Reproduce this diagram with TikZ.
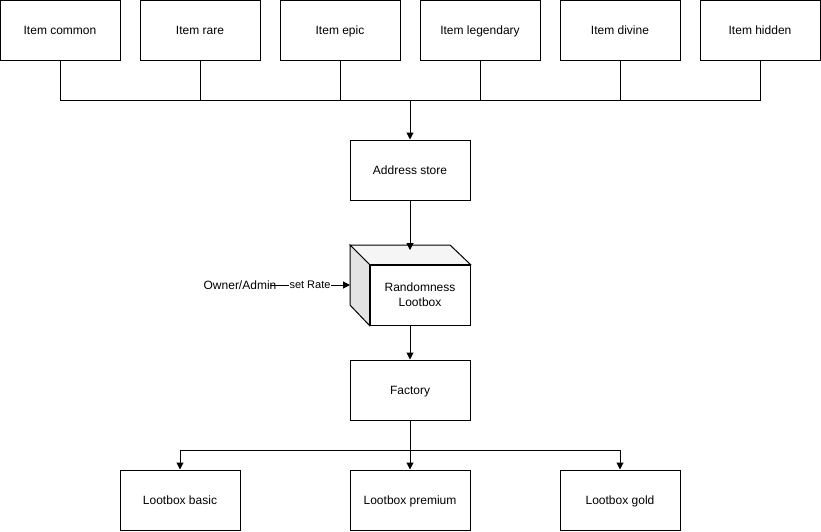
\documentclass[tikz,border=0pt]{standalone}
\usepackage{fontspec}
\setmainfont{Liberation Sans}
\usetikzlibrary{arrows.meta}
\begin{document}
\begin{tikzpicture}[x=1pt,y=-1pt,line width=1pt,
  box/.style={draw, minimum width=120pt, minimum height=60pt, inner sep=0pt, text height=9.5pt, text depth=1.5pt, font=\fontsize{12}{15}\selectfont},
  arr/.style={-{Triangle[length=7pt,width=7pt]}}]
\useasboundingbox (0,0) rectangle (821,531);
\node[box] (item0) at (60,30){Item common};
\node[box] (item1) at (200,30){Item rare};
\node[box] (item2) at (340,30){Item epic};
\node[box] (item3) at (480,30){Item legendary};
\node[box] (item4) at (620,30){Item divine};
\node[box] (item5) at (760,30){Item hidden};
\draw[](item0.south) -- ++(0,40) -| (item5.south);
\draw[](item1.south) -- ++(0,40);
\draw[](item2.south) -- ++(0,40);
\draw[](item3.south) -- ++(0,40);
\draw[](item4.south) -- ++(0,40);
\coordinate (bus) at (410,100);
\node[box] (addr) at (410,170){Address store};
\draw[arr](bus) -- (addr.north);

\node[draw, minimum width=100pt, minimum height=60pt, inner sep=0pt, align=center, font=\fontsize{12}{15}\selectfont] (rand) at (420,295){Randomness\\Lootbox};
\draw[fill=gray!8](350,245) -- (450,245) -- (rand.north east) -- (rand.north west) -- cycle;
\draw[fill=gray!22](350,245) -- (rand.north west) -- (rand.south west) -- (350,305) -- cycle;
\coordinate (randtop) at (410,250);
\draw[arr](addr.south) -- (randtop);
\node[font=\fontsize{12}{15}\selectfont] (owner) at (240,285){Owner/Admin};
\coordinate (ownerout) at (270,285);
\draw[arr](ownerout) -- node[fill=white, inner sep=1pt, font=\fontsize{11}{13}\selectfont]{set Rate} (350,285);

\node[box] (fact) at (410,390){Factory};
\draw[arr](rand.south -| fact.north) -- (fact.north);
\node[box] (basic) at (180,500){Lootbox basic};
\node[box] (prem) at (410,500){Lootbox premium};
\node[box] (gold) at (620,500){Lootbox gold};
\draw[](fact.south) -- (410,450) coordinate (split);
\draw[arr](split) -| (basic.north);
\draw[arr](split) -- (prem.north);
\draw[arr](split) -| (gold.north);

\end{tikzpicture}
\end{document}
